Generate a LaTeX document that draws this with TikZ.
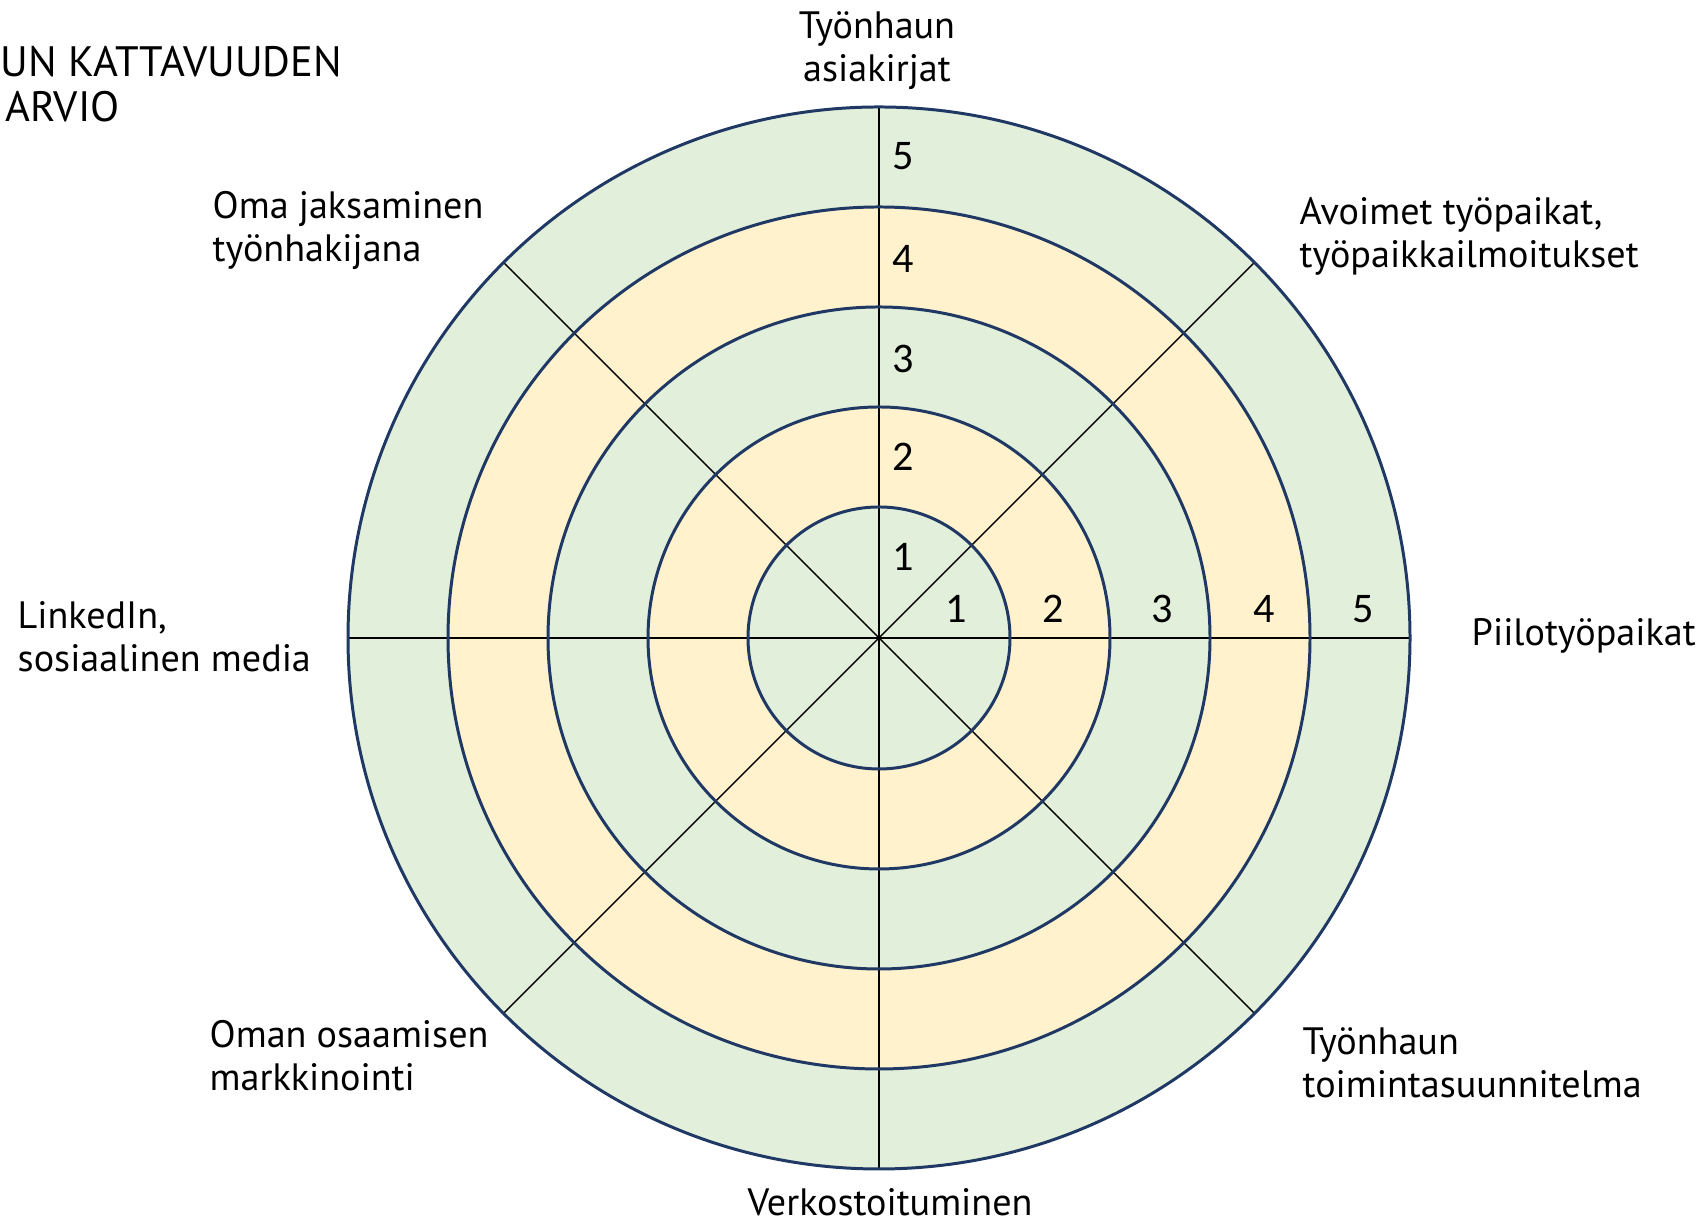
\documentclass[tikz,border=0pt]{standalone}
\usepackage{fontspec}
\setmainfont{PT Sans}
\newfontfamily\digitfont{Carlito}
\usepackage{tikz}
\usetikzlibrary{positioning}
\definecolor{ringgreen}{HTML}{E2EFDA}
\definecolor{ringyellow}{HTML}{FFF2CC}
\definecolor{ringline}{HTML}{1F3864}

\tikzset{
  areatext/.style={font=\fontsize{10.85}{12.5}\selectfont, align=left, inner sep=0pt},
  titletext/.style={font=\fontsize{12.1}{13}\selectfont, inner sep=0pt, anchor=base west},
  scoretext/.style={font=\digitfont\fontsize{12}{14}\selectfont, inner sep=0pt},
  ring/.style={ringline, line width=0.85pt},
  spoke/.style={black, line width=0.4pt}
}

\begin{document}
\begin{tikzpicture}
  \useasboundingbox (0,0) rectangle (17.06,12.25);
  \begin{scope}[shift={(8.79,5.87)}]
    % rings, outside in
    \fill[ringgreen] (0,0) circle (5.31);
    \fill[ringyellow] (0,0) circle (4.31);
    \fill[ringgreen] (0,0) circle (3.31);
    \fill[ringyellow] (0,0) circle (2.31);
    \fill[ringgreen] (0,0) circle (1.31);
    \draw[spoke] (0:5.31) -- (180:5.31);
    \draw[spoke] (45:5.31) -- (225:5.31);
    \draw[spoke] (90:5.31) -- (270:5.31);
    \draw[spoke] (135:5.31) -- (315:5.31);
    \draw[ring] (0,0) circle (1.31);
    \draw[ring] (0,0) circle (2.31);
    \draw[ring] (0,0) circle (3.31);
    \draw[ring] (0,0) circle (4.31);
    \draw[ring] (0,0) circle (5.31);
    % scale on the vertical axis
    \node[scoretext] (v1) at (0.24,0.81) {1};
    \node[scoretext] (v2) at (0.24,1.81) {2};
    \node[scoretext] (v3) at (0.24,2.79) {3};
    \node[scoretext] (v4) at (0.24,3.79) {4};
    \node[scoretext] (v5) at (0.24,4.82) {5};
    % scale on the horizontal axis
    \node[scoretext] (h1) at (0.77,0.29) {1};
    \node[scoretext] (h2) at (1.74,0.29) {2};
    \node[scoretext] (h3) at (2.83,0.29) {3};
    \node[scoretext] (h4) at (3.85,0.29) {4};
    \node[scoretext] (h5) at (4.84,0.29) {5};
  \end{scope}
  \node[titletext] (title1) at (0.00,11.48) {UN KATTAVUUDEN};
  \node[titletext] (title2) at (0.05,11.03) {ARVIO};
  \node[areatext, align=center, anchor=base] (asiakirjat) at (8.77,11.43) {Työnhaun\\asiakirjat};
  \node[areatext, anchor=base west] (avoimet) at (12.99,9.57) {Avoimet työpaikat,\\työpaikkailmoitukset};
  \node[areatext, anchor=base west] (piilo) at (14.71,5.79) {Piilotyöpaikat};
  \node[areatext, anchor=base west] (suunnitelma) at (13.02,1.27) {Työnhaun\\toimintasuunnitelma};
  \node[areatext, anchor=base] (verkosto) at (8.90,0.09) {Verkostoituminen};
  \node[areatext, anchor=base west] (markkinointi) at (2.09,1.34) {Oman osaamisen\\markkinointi};
  \node[areatext, anchor=base west] (linkedin) at (0.17,5.53) {LinkedIn,\\sosiaalinen media};
  \node[areatext, anchor=base west] (jaksaminen) at (2.12,9.63) {Oma jaksaminen\\työnhakijana};
\end{tikzpicture}
\end{document}
